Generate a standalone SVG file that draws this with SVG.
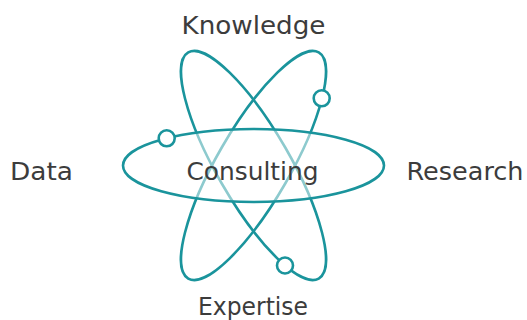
<svg xmlns="http://www.w3.org/2000/svg" width="527" height="320" viewBox="0 0 527 320">
  <style>
    .orbit { fill: none; stroke: #1a949c; stroke-width: 2.6; }
    .veil { fill: #ffffff; fill-opacity: 0.5; stroke: #1a949c; stroke-width: 2.6; }
    .electron { fill: #ffffff; stroke: #1a949c; stroke-width: 2.6; }
    .label { font-family: "DejaVu Sans", "Liberation Sans", sans-serif; font-size: 24.5px; fill: #3c3c3c; }
  </style>
  <rect width="527" height="320" fill="#ffffff"/>
  <g id="atom">
    <ellipse id="orbit-a" class="orbit" cx="0" cy="0" rx="130.5" ry="36.5" transform="translate(253.5 165.5) rotate(60)"/>
    <ellipse id="orbit-b" class="orbit" cx="0" cy="0" rx="130.5" ry="36.5" transform="translate(253.5 165.5) rotate(-60)"/>
    <ellipse id="orbit-h" class="veil" cx="253.5" cy="165.5" rx="130.5" ry="36.5"/>
    <circle id="electron-1" class="electron" cx="166.7" cy="138.3" r="8"/>
    <circle id="electron-2" class="electron" cx="321.7" cy="98.3" r="8"/>
    <circle id="electron-3" class="electron" cx="285" cy="265.5" r="8"/>
  </g>
  <g id="node-knowledge"><text class="label" x="181.5" y="34" textLength="144" lengthAdjust="spacingAndGlyphs">Knowledge</text></g>
  <g id="node-consulting"><text class="label" x="186.5" y="180" textLength="132" lengthAdjust="spacingAndGlyphs">Consulting</text></g>
  <g id="node-expertise"><text class="label" x="198" y="314.5" textLength="110" lengthAdjust="spacingAndGlyphs">Expertise</text></g>
  <g id="node-data"><text class="label" x="10" y="179.5" textLength="63" lengthAdjust="spacingAndGlyphs">Data</text></g>
  <g id="node-research"><text class="label" x="406.5" y="180" textLength="117" lengthAdjust="spacingAndGlyphs">Research</text></g>
  <g id="connectors"></g>
</svg>
